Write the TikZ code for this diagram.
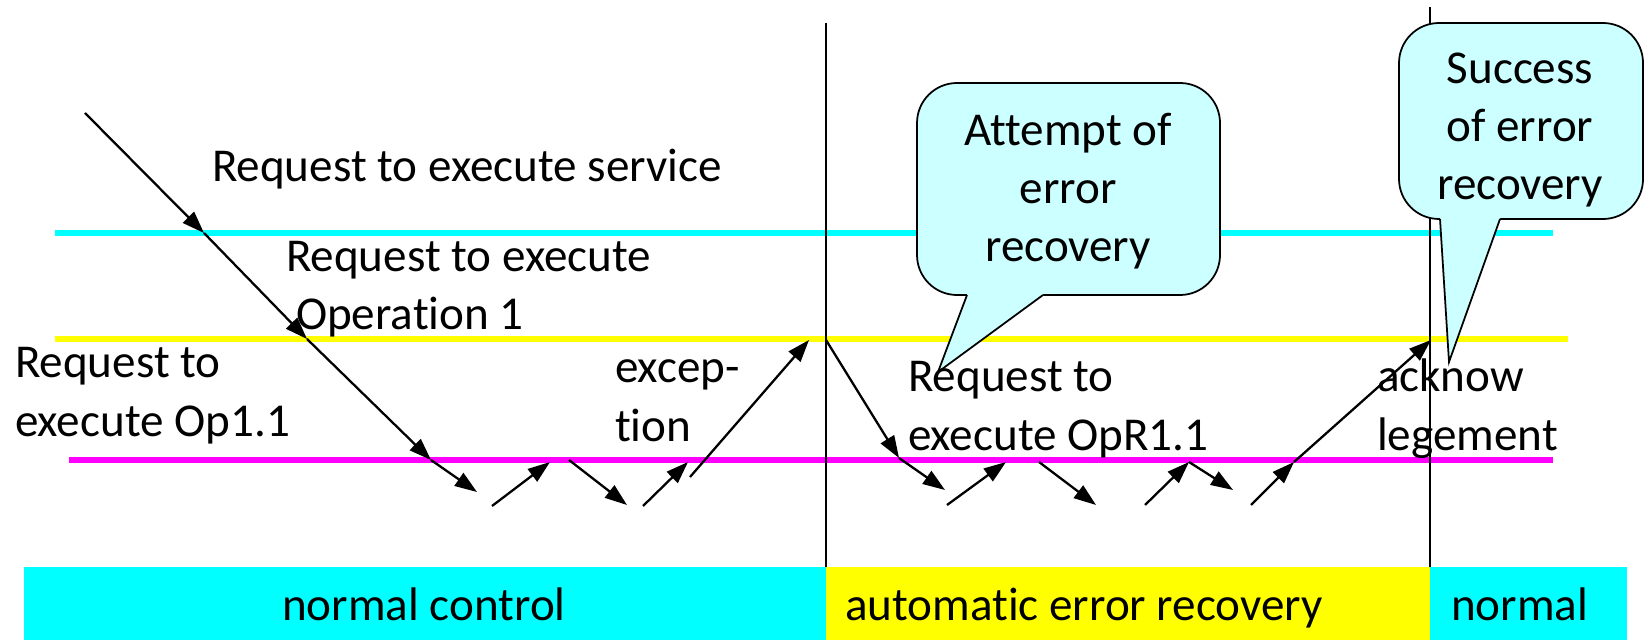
\documentclass[tikz,border=0pt]{standalone}
\usepackage{fontspec}
\setmainfont{Carlito}[Ligatures={NoCommon}]
\usetikzlibrary{arrows.meta}
\definecolor{calfill}{HTML}{CCFFFF}
\definecolor{lcyan}{HTML}{00FFFF}
\definecolor{lyellow}{HTML}{FFFF00}
\definecolor{lmagenta}{HTML}{FF00FF}
\begin{document}
\begin{tikzpicture}[x=0.01cm,y=-0.01cm,
  lbl/.style={inner sep=0pt, outer sep=0pt, font=\fontsize{13.4}{16.6}\selectfont, align=left, anchor=base west},
  clbl/.style={inner sep=0pt, outer sep=0pt, font=\fontsize{13.4}{16.6}\selectfont, align=center, anchor=base},
  arr/.style={line width=0.65pt, -{Triangle[length=6.3pt,width=4.4pt]}},
  level/.style={line width=1.45pt},
  vline/.style={line width=0.45pt},
  callout/.style={fill=calfill, draw=black, line width=0.5pt},
]
\useasboundingbox (0,0) rectangle (1646,640);

% bottom bars
\fill[lcyan] (24,567) rectangle (826,640);
\fill[lyellow] (826,567) rectangle (1430,640);
\fill[lcyan] (1430,567) rectangle (1627,640);

% level lines
\draw[level, lcyan] (55,233) -- (1553,233);
\draw[level, lyellow] (55,339) -- (1568,339);
\draw[level, lmagenta] (69,460) -- (1553,460);

% vertical separators
\draw[vline] (826,23) -- (826,567);
\draw[vline] (1430,7) -- (1430,567);

% callout 1
\coordinate (c1b1) at (967,295);
\coordinate (c1b2) at (1043,295);
\coordinate (c1tip) at (938,372);
\draw[callout, rounded corners=0.4cm] (917,83) rectangle (1220,295);
\fill[calfill] (967,290) -- (c1b1) -- (c1tip) -- (c1b2) -- (1043,290) -- cycle;
\draw[line width=0.5pt] (c1b1) -- (c1tip) -- (c1b2);
\node[clbl] (att) at (1068,262) {Attempt of\\error\\recovery};

% callout 2
\coordinate (c2b1) at (1440,219);
\coordinate (c2b2) at (1500,219);
\coordinate (c2tip) at (1449,362);
\draw[callout, rounded corners=0.4cm] (1399,23) rectangle (1643,219);
\fill[calfill] (1440,214) -- (c2b1) -- (c2tip) -- (c2b2) -- (1500,214) -- cycle;
\draw[line width=0.5pt] (c2b1) -- (c2tip) -- (c2b2);
\node[clbl] (suc) at (1520,200) {Success\\of error\\recovery};

% labels
\node[lbl] (rs) at (212,182) {Request to execute service};
\node[lbl] (rop1) at (286,330) {Request to execute\\\hspace*{0.1cm}Operation 1};
\node[lbl] (rop11) at (15,436) {Request to\\execute Op1.1};
\node[lbl] (exc) at (615,441) {excep-\\tion};
\node[lbl] (ropr) at (908,450) {Request to\\execute OpR1.1};
\node[lbl] (ack) at (1377,450) {acknow\\legement};

\node[lbl, anchor=base] (bn1) at (424,620) {normal control};
\node[lbl] (bn2) at (845,620) {automatic error recovery};
\node[lbl] (bn3) at (1451,620) {normal};

% arrows, left part
\coordinate (a0) at (85,113);
\coordinate (a1) at (204,233);
\coordinate (a2) at (307,339);
\coordinate (a3) at (431,460);
\coordinate (a4) at (477,492);
\draw[arr] (a0) -- (a1);
\draw[arr] (a1) -- (a2);
\draw[arr] (a2) -- (a3);
\draw[arr] (a3) -- (a4);
\coordinate (b0) at (492,506);
\coordinate (b1) at (550,462);
\coordinate (b2) at (569,460);
\coordinate (b3) at (627,505);
\coordinate (b4) at (643,506);
\coordinate (b5) at (688,462);
\coordinate (b6) at (690,477);
\coordinate (b7) at (809,340);
\draw[arr] (b0) -- (b1);
\draw[arr] (b2) -- (b3);
\draw[arr] (b4) -- (b5);
\draw[arr] (b6) -- (b7);

% arrows, right part
\coordinate (r0) at (826,340);
\coordinate (r1) at (899,458);
\coordinate (r2) at (945,490);
\coordinate (r3) at (947,505);
\coordinate (r4) at (1006,462);
\coordinate (r5) at (1039,462);
\coordinate (r6) at (1096,505);
\coordinate (r7) at (1145,505);
\coordinate (r8) at (1189,462);
\coordinate (r9) at (1233,490);
\coordinate (r10) at (1251,505);
\coordinate (r11) at (1294,462);
\coordinate (r12) at (1431,340);
\draw[arr] (r0) -- (r1);
\draw[arr] (r1) -- (r2);
\draw[arr] (r3) -- (r4);
\draw[arr] (r5) -- (r6);
\draw[arr] (r7) -- (r8);
\draw[arr] (r8) -- (r9);
\draw[arr] (r10) -- (r11);
\draw[arr] (r11) -- (r12);
\end{tikzpicture}
\end{document}
